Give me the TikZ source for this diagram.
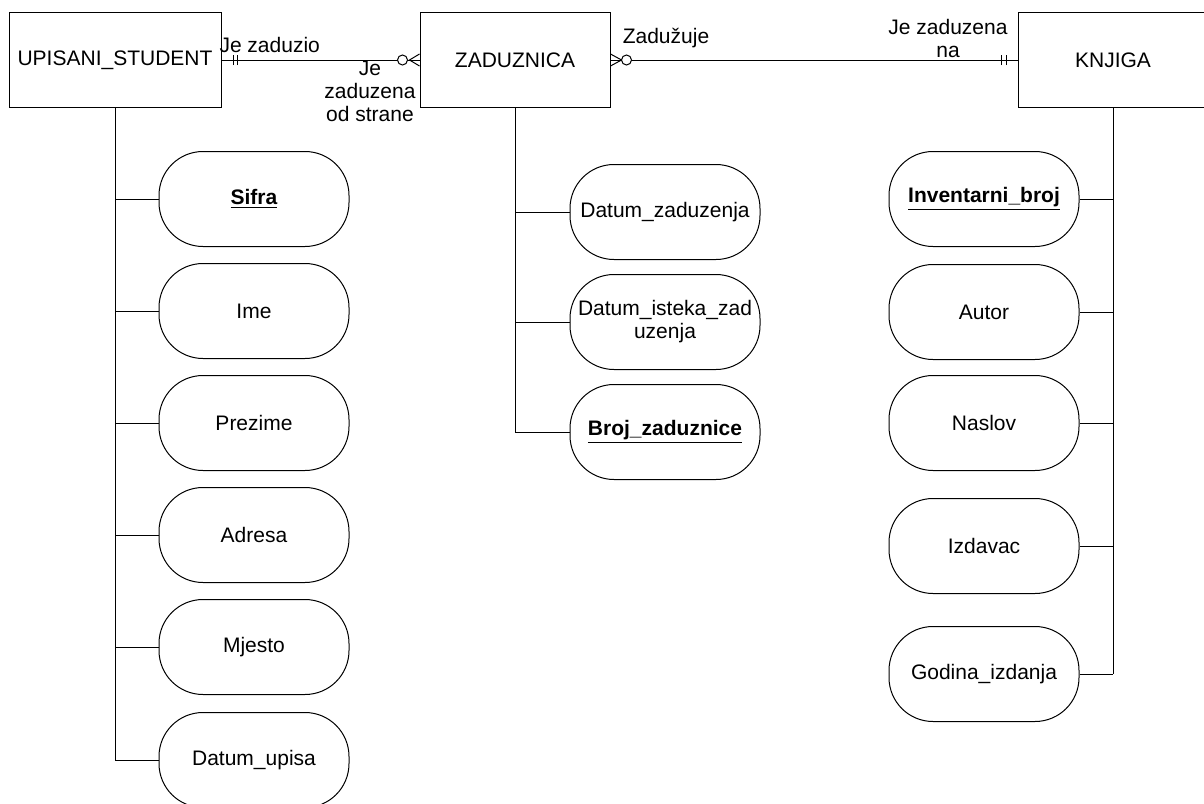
\documentclass[tikz,border=0pt]{standalone}
\usepackage{fontspec}
\setmainfont{Liberation Sans}

\tikzset{
    entity/.style={draw, minimum width=106pt, minimum height=47.5pt, inner sep=0pt},
    attrib/.style={draw, rounded corners=22pt, minimum width=95pt, minimum height=47.5pt, inner sep=0pt, align=center},
    rellabel/.style={inner sep=0pt, align=center},
}
\newcommand{\pkey}[1]{\underline{\textbf{#1}}}

\begin{document}
\begin{tikzpicture}[x=0.5pt, y=-0.5pt, line width=0.5pt, font=\fontsize{10.5}{11.5}\selectfont]
    \useasboundingbox (0,0) rectangle (1204,803);

    % Entities
    \node[entity] (student) at (115,60) {UPISANI\_STUDENT};
    \node[entity, minimum width=95pt] (zaduznica) at (515,60) {ZADUZNICA};
    \node[entity, minimum width=95pt] (knjiga) at (1113,60) {KNJIGA};

    % Relationship student - zaduznica
    \draw (student.east) -- (zaduznica.west);
    \draw ([xshift=6pt,yshift=-2.5pt]student.east) -- ([xshift=6pt,yshift=2.5pt]student.east);
    \draw ([xshift=8pt,yshift=-2.5pt]student.east) -- ([xshift=8pt,yshift=2.5pt]student.east);
    \draw ([yshift=3pt]zaduznica.west) -- ([xshift=-5pt]zaduznica.west) -- ([yshift=-3pt]zaduznica.west);
    \draw[fill=white] ([xshift=-8.5pt]zaduznica.west) circle (2.5pt);
    \node[rellabel, anchor=west] (jezaduzio) at (219,45) {Je zaduzio};
    \node[rellabel] (odstrane) at (370,91) {Je\\zaduzena\\od strane};

    % Relationship zaduznica - knjiga
    \draw (zaduznica.east) -- (knjiga.west);
    \draw ([yshift=3pt]zaduznica.east) -- ([xshift=5.5pt]zaduznica.east) -- ([yshift=-3pt]zaduznica.east);
    \draw[fill=white] ([xshift=8pt]zaduznica.east) circle (2.5pt);
    \draw ([xshift=-8pt,yshift=-2.5pt]knjiga.west) -- ([xshift=-8pt,yshift=2.5pt]knjiga.west);
    \draw ([xshift=-5.5pt,yshift=-2.5pt]knjiga.west) -- ([xshift=-5.5pt,yshift=2.5pt]knjiga.west);
    \node[rellabel] (zaduzuje) at (666,38) {Zadužuje};
    \node[rellabel] (jezaduzenana) at (948,38) {Je zaduzena\\na};

    % Attributes of UPISANI_STUDENT
    \node[attrib] (sifra) at (254,199) {\pkey{Sifra}};
    \node[attrib] (ime) at (254,311) {Ime};
    \node[attrib] (prezime) at (254,423) {Prezime};
    \node[attrib] (adresa) at (254,535) {Adresa};
    \node[attrib] (mjesto) at (254,647) {Mjesto};
    \node[attrib] (datumupisa) at (254,760) {Datum\_upisa};
    \draw (student.south) -- (student.south |- datumupisa.west);
    \foreach \a in {sifra,ime,prezime,adresa,mjesto,datumupisa}
        \draw (\a.west) -- (\a.west -| student.south);

    % Attributes of ZADUZNICA
    \node[attrib] (datumzad) at (665,212) {Datum\_zaduzenja};
    \node[attrib] (datumisteka) at (665,322) {Datum\_isteka\_zad\\uzenja};
    \node[attrib] (brojzad) at (665,432) {\pkey{Broj\_zaduznice}};
    \draw (zaduznica.south) -- (zaduznica.south |- brojzad.west);
    \foreach \a in {datumzad,datumisteka,brojzad}
        \draw (\a.west) -- (\a.west -| zaduznica.south);

    % Attributes of KNJIGA
    \node[attrib] (invbroj) at (984,199) {\pkey{Inventarni\_broj}};
    \node[attrib] (autor) at (984,312) {Autor};
    \node[attrib] (naslov) at (984,423) {Naslov};
    \node[attrib] (izdavac) at (984,546) {Izdavac};
    \node[attrib] (godina) at (984,674) {Godina\_izdanja};
    \draw (knjiga.south) -- (knjiga.south |- godina.east);
    \foreach \a in {invbroj,autor,naslov,izdavac,godina}
        \draw (\a.east) -- (\a.east -| knjiga.south);

\end{tikzpicture}
\end{document}
